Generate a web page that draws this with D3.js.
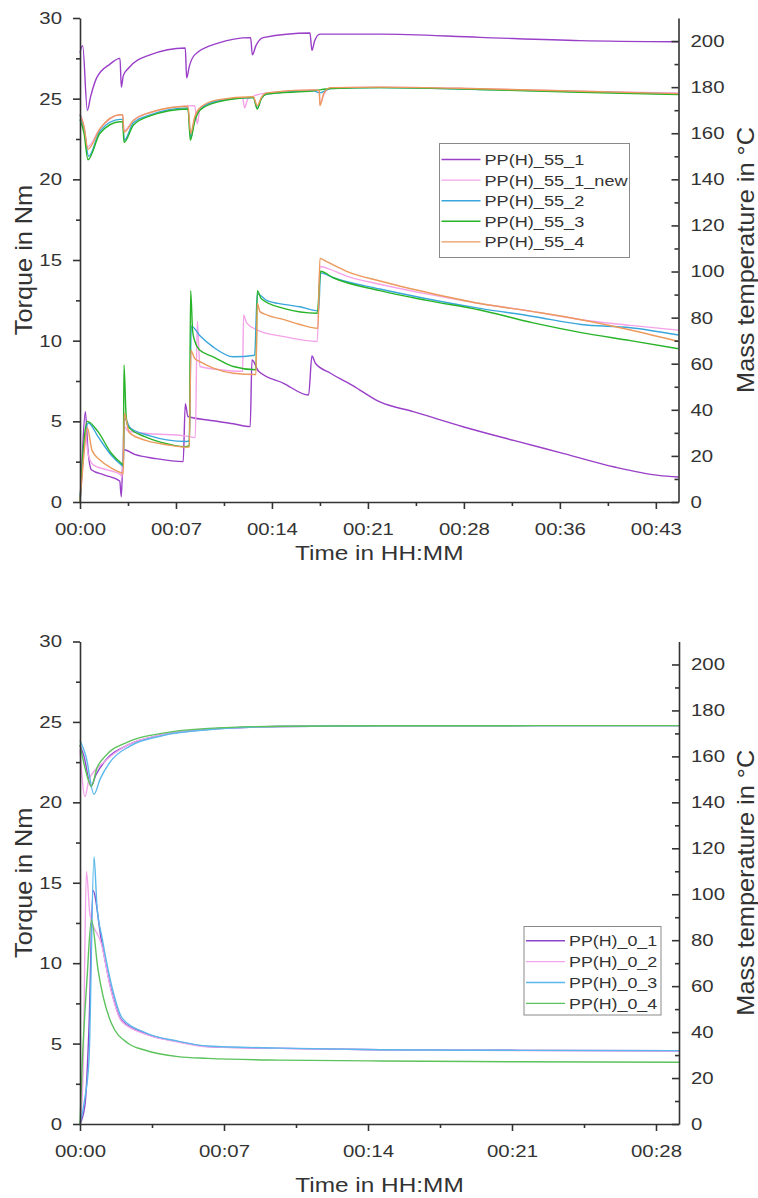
<html>
<style>
  body {
    margin: 0;
    background: #ffffff;
    font-family: "Liberation Sans", Arial, Helvetica, sans-serif;
  }
  .axis path, .axis line {
    stroke: #333333;
    stroke-width: 1.6;
  }
  .axis text {
    fill: #333333;
    font-size: 17px;
    font-family: "Liberation Sans", Arial, sans-serif;
  }
  .title {
    fill: #333333;
  }
  .legend text {
    fill: #333333;
  }
</style>

<script src="https://d3js.org/d3.v7.min.js"></script>

<body>
<svg id="chart" width="758" height="1198"></svg>
</body>

<script>
// ---------- top panel: PP(H)_55 (time in minutes) ----------
let names55 = ["PP(H)_55_1", "PP(H)_55_1_new", "PP(H)_55_2", "PP(H)_55_3", "PP(H)_55_4"]
let colors55 = ["#9a3fc8", "#f4a3e8", "#3aa6dc", "#28b428", "#ec9a5c"]

// torque in Nm
let torque55_1 = [[0,0],[0.15,2.5],[0.4,5.6],[0.6,3.2],[0.85,2.0],[1.85,1.67],[2.98,1.3],[3.1,0.33],[3.25,3.25],[4.1,2.95],[5.6,2.7],[7.74,2.5],[7.9,6.1],[8.1,5.3],[9.6,5.08],[11.5,4.85],[12.77,4.67],[12.9,8.8],[13.4,8.1],[15.27,7.36],[17.15,6.63],[17.4,9.05],[17.66,8.6],[18.8,7.98],[20.5,7.2],[22.5,6.2],[25,5.6],[28.8,4.65],[32.6,3.8],[36.3,3.0],[40.1,2.17],[43.4,1.65],[44.9,1.55]]
let torque55_1new = [[0,0],[0.2,2.0],[0.4,4.3],[0.6,3.0],[1.0,2.3],[2.0,2.0],[3.05,1.7],[3.15,1.5],[3.3,4.7],[3.6,4.4],[5.0,4.25],[7.9,4.1],[8.65,4.0],[8.8,11.2],[9.0,8.4],[10.5,8.2],[12.2,8.1],[12.27,11.6],[12.5,11.1],[13.3,10.66],[15.3,10.25],[17.8,9.95],[18.0,14.6],[18.5,14.5],[20,14.0],[22.5,13.5],[26,12.9],[30,12.3],[34,11.8],[37.6,11.3],[41.3,10.95],[44.9,10.65]]
let torque55_2 = [[0,0],[0.3,3.5],[0.63,4.9],[1.35,4.05],[2.35,2.9],[3.1,2.3],[3.25,2.2],[3.35,5.2],[3.76,4.6],[5.26,4.1],[6.5,3.85],[8.0,3.75],[8.2,3.8],[8.35,10.9],[9.0,10.3],[10.0,9.6],[11.5,9.0],[13.1,9.1],[13.3,12.9],[14.0,12.5],[15.3,12.25],[16.5,12.1],[17.9,11.85],[18.05,14.2],[19,13.9],[22.5,13.2],[26,12.6],[30,12.0],[34,11.5],[37.6,11.0],[41.3,10.8],[44.9,10.35]]
let torque55_3 = [[0,0],[0.3,3.8],[0.55,5.0],[1.35,4.36],[2.35,3.02],[3.1,2.4],[3.25,2.3],[3.3,8.5],[3.45,5.5],[3.6,4.67],[4.86,4.05],[6.1,3.7],[7.86,3.43],[8.2,3.5],[8.3,13.1],[8.45,10.6],[8.6,10.0],[9.0,9.4],[10.0,9.0],[11.5,8.4],[13.2,8.2],[13.3,13.1],[13.6,12.6],[15.27,12.0],[17.8,11.7],[18.05,14.3],[19,13.9],[22.5,13.1],[26,12.5],[30,11.9],[34,11.1],[37.6,10.5],[41.3,10.0],[44.9,9.5]]
let torque55_4 = [[0,0],[0.3,3.0],[0.55,4.6],[0.9,3.2],[1.5,2.6],[2.35,2.1],[3.1,1.8],[3.25,1.75],[3.32,5.5],[3.7,4.3],[5.0,3.8],[6.5,3.55],[7.9,3.4],[8.2,3.4],[8.32,9.4],[8.6,8.9],[9.0,8.7],[10.0,8.3],[11.5,7.98],[13.2,7.9],[13.3,12.3],[13.5,11.8],[14.0,11.6],[15.3,11.3],[16.5,11.0],[17.85,10.77],[18.0,15.1],[18.5,14.9],[20,14.3],[22.5,13.7],[26,13.0],[30,12.3],[34,11.8],[37.6,11.3],[41.3,10.66],[44.9,9.95]]

// mass temperature in °C
let temp55_1 = [[0,195],[0.2,198],[0.55,170],[0.8,176],[1.25,184],[2.25,190],[3.0,192.5],[3.1,180],[3.25,185],[3.6,188],[5.25,194],[7.9,197],[8.0,184],[8.2,189],[8.6,194],[10.3,199],[12.8,201.5],[12.93,194],[13.2,198],[13.75,201.5],[17.25,203.5],[17.4,196],[17.6,200],[18.0,203],[22.5,203],[30,201.6],[37.5,200.2],[44.9,199.7]]
let temp55_1new = [[0,168.5],[0.3,163],[0.55,154],[1.5,162],[3.0,168],[3.2,168],[3.3,161],[4.0,165.5],[5.26,169],[8.6,172],[8.8,164],[9.0,170.5],[10.3,174],[12.2,175.3],[12.35,171],[12.6,175],[14.0,177.5],[17.5,178.8],[17.95,178.5],[18.0,172.5],[18.3,177],[18.8,179.6],[22.5,180],[30,179.3],[37.5,178.2],[44.9,177.5]]
let temp55_2 = [[0,168],[0.3,162],[0.65,150],[1.5,161],[3.0,166],[3.2,166],[3.32,157],[4.0,164.5],[5.26,168],[8.1,171],[8.3,158],[8.6,166],[9.0,170.4],[10.3,174],[13.0,175.5],[13.3,171],[13.6,175],[14.0,177],[17.5,178.4],[18.0,177.5],[18.8,179.4],[22.5,179.8],[30,179],[37.5,178],[44.9,177]]
let temp55_3 = [[0,166],[0.3,160],[0.6,148.5],[1.5,160],[3.0,165],[3.2,165],[3.3,156],[4.0,163.5],[5.26,167.5],[8.1,170.5],[8.28,157],[8.6,165],[9.0,170],[10.3,173.5],[13.0,175.5],[13.3,170.5],[13.6,175],[14.0,177],[17.5,178.4],[18.8,179.4],[22.5,179.8],[30,179],[37.5,177.8],[44.9,176.8]]
let temp55_4 = [[0,168],[0.3,163],[0.6,153],[1.5,162],[3.0,168],[3.2,168],[3.3,160.5],[4.0,165.5],[5.26,169],[8.1,171.7],[8.3,160],[8.6,167],[9.0,171],[10.3,174.5],[13.0,175.8],[13.3,172],[13.6,175.5],[14.0,177.5],[17.5,178.8],[17.95,178.5],[18.0,172],[18.3,177.5],[18.8,179.8],[22.5,180],[30,179.3],[37.5,178.2],[44.9,177.2]]

// ---------- bottom panel: PP(H)_0 ----------
let names0 = ["PP(H)_0_1", "PP(H)_0_2", "PP(H)_0_3", "PP(H)_0_4"]
let colors0 = ["#8a46cc", "#f2a5ea", "#5ab8ec", "#5cc25c"]

let torque0_1 = [[0,0],[0.25,1.2],[0.45,6],[0.65,14.5],[1.07,11.4],[1.57,8.3],[2.07,6.47],[3.23,5.64],[4.9,5.12],[6.4,4.81],[10,4.7],[15,4.62],[22,4.58],[29.95,4.55]]
let torque0_2 = [[0,0],[0.15,3],[0.32,15.7],[0.5,13.0],[1.07,11.2],[1.57,8.2],[2.07,6.4],[3.23,5.6],[4.9,5.1],[6.4,4.8],[10,4.7],[15,4.62],[22,4.57],[29.95,4.55]]
let torque0_3 = [[0,0],[0.23,1.5],[0.45,4],[0.7,16.6],[0.85,13.5],[1.1,11.6],[1.6,8.5],[2.1,6.6],[3.23,5.7],[4.9,5.15],[6.4,4.85],[10,4.72],[15,4.62],[22,4.58],[29.95,4.56]]
let torque0_4 = [[0,0],[0.12,4],[0.35,9],[0.57,12.7],[0.9,9.6],[1.57,6.26],[2.4,5.02],[3.23,4.6],[4.9,4.19],[6.4,4.08],[10,3.97],[15,3.92],[22,3.87],[29.95,3.84]]

let temp0_1 = [[0,165],[0.2,160],[0.55,147],[0.8,152],[1.25,158],[2.4,165],[4.07,169.3],[6.4,171.8],[10,173],[15,173.3],[29.95,173.4]]
let temp0_2 = [[0,163],[0.25,142.5],[0.45,150],[1.2,157.5],[2.4,165],[4.07,169.3],[6.4,171.8],[10,173],[15,173.3],[29.95,173.4]]
let temp0_3 = [[0,167],[0.3,160],[0.7,143.5],[1.0,150],[1.5,157.5],[2.5,164.5],[4.1,169],[6.4,171.6],[10,173],[15,173.3],[29.95,173.4]]
let temp0_4 = [[0,165],[0.25,155],[0.57,147],[0.85,155],[1.25,160],[2.4,166.3],[4.07,170],[6.4,172.2],[10,173.1],[15,173.3],[29.95,173.4]]

// axis ticks (minutes, shown truncated as HH:MM)
let timeStep = 7.2
let torqueTicks = [0, 5, 10, 15, 20, 25, 30]
let tempTicks = [0, 20, 40, 60, 80, 100, 120, 140, 160, 180, 200]

let TEXT_SX = 1.2

function fmtTime(v) {
  let m = Math.floor(v + 1e-6)
  return "00:" + d3.format("02d")(m)
}

function hText(g, x, y, str, size, anchor, sx) {
  return g.append("text")
    .attr("transform", `translate(${x},${y}) scale(${sx},1)`)
    .attr("text-anchor", anchor)
    .style("font-size", size + "px")
    .text(str)
}

function vText(g, x, y, str, size, sy) {
  return g.append("text")
    .attr("class", "title")
    .attr("transform", `translate(${x},${y}) rotate(-90) scale(${sy},1)`)
    .attr("text-anchor", "middle")
    .style("font-size", size + "px")
    .text(str)
}

function drawPanel(p) {
  let svg = d3.select("#chart")
  let g = svg.append("g")

  let x = d3.scaleLinear().domain([0, p.xMax]).range([p.left, p.right])
  let yL = d3.scaleLinear().domain([0, 30]).range([p.bottom, p.top])
  let yR = d3.scaleLinear().domain([0, 210]).range([p.bottom, p.top])

  let torqueLine = d3.line().curve(d3.curveMonotoneX).x(d => x(d[0])).y(d => yL(d[1]))
  let tempLine = d3.line().curve(d3.curveMonotoneX).x(d => x(d[0])).y(d => yR(d[1]))

  // data lines
  p.series.forEach(s => {
    g.append("path").attr("d", tempLine(s.temp))
      .attr("fill", "none").attr("stroke", s.color).attr("stroke-width", 1.4)
    g.append("path").attr("d", torqueLine(s.torque))
      .attr("fill", "none").attr("stroke", s.color).attr("stroke-width", 1.4)
  })

  // x axis, major + minor ticks
  let major = d3.range(0, p.xMax + 0.01, timeStep)
  let minor = d3.range(timeStep / 2, p.xMax, timeStep)
  let gxMinor = g.append("g").attr("class", "axis")
    .attr("transform", `translate(0,${p.bottom})`)
    .call(d3.axisBottom(x).tickValues(minor).tickFormat("").tickSizeInner(4).tickSizeOuter(0))
  gxMinor.select(".domain").remove()
  let gx = g.append("g").attr("class", "axis")
    .attr("color", "#333")
    .attr("transform", `translate(0,${p.bottom})`)
    .call(d3.axisBottom(x).tickValues(major).tickFormat(fmtTime).tickSizeInner(7).tickSizeOuter(0).tickPadding(14))
  gx.selectAll("text").attr("transform", `scale(${TEXT_SX},1)`)

  // left axis
  let gyMinor = g.append("g").attr("class", "axis")
    .attr("transform", `translate(${p.left},0)`)
    .call(d3.axisLeft(yL).tickValues(d3.range(2.5, 30, 5)).tickFormat("").tickSizeInner(4).tickSizeOuter(0))
  gyMinor.select(".domain").remove()
  let gy = g.append("g").attr("class", "axis")
    .attr("transform", `translate(${p.left},0)`)
    .call(d3.axisLeft(yL).tickValues(torqueTicks).tickSizeInner(7).tickSizeOuter(0))
  gy.selectAll("text")
    .attr("x", -18 / TEXT_SX)
    .attr("transform", `scale(${TEXT_SX},1)`)

  // right axis, ticks pointing inward
  let grMinor = g.append("g").attr("class", "axis")
    .attr("transform", `translate(${p.right},0)`)
    .call(d3.axisRight(yR).tickValues(d3.range(10, 210, 20)).tickFormat("").tickSizeInner(-4).tickSizeOuter(0))
  grMinor.select(".domain").remove()
  let gr = g.append("g").attr("class", "axis")
    .attr("transform", `translate(${p.right},0)`)
    .call(d3.axisRight(yR).tickValues(tempTicks).tickSizeInner(-7).tickSizeOuter(0))
  gr.selectAll("text")
    .attr("x", 12 / TEXT_SX)
    .attr("transform", `scale(${TEXT_SX},1)`)

  // axis titles
  hText(g, (p.left + p.right) / 2, p.xTitleY, "Time in HH:MM", 20, "middle", 1.22).attr("class", "title")
  vText(g, 32, (p.top + p.bottom) / 2, "Torque in Nm", 23, 1.1)
  vText(g, 754, (p.top + p.bottom) / 2, "Mass temperature in °C", 23, 1.1)

  // legend
  let lg = g.append("g").attr("class", "legend")
  let L = p.legend
  lg.append("rect")
    .attr("x", L.x).attr("y", L.y).attr("width", L.w).attr("height", L.h)
    .attr("fill", "#ffffff").attr("stroke", "#8a8a8a").attr("stroke-width", 1)
  p.series.forEach((s, i) => {
    let cy = L.firstRow + i * L.rowStep
    lg.append("line")
      .attr("x1", L.x + 2).attr("x2", L.x + L.lineLen)
      .attr("y1", cy).attr("y2", cy)
      .attr("stroke", s.color).attr("stroke-width", 1.4)
    hText(lg, L.x + L.lineLen + 4, cy + 5.5, s.name, L.font, "start", L.sx)
  })
}

let series55 = [
  {name: names55[0], color: colors55[0], torque: torque55_1, temp: temp55_1},
  {name: names55[1], color: colors55[1], torque: torque55_1new, temp: temp55_1new},
  {name: names55[2], color: colors55[2], torque: torque55_2, temp: temp55_2},
  {name: names55[3], color: colors55[3], torque: torque55_3, temp: temp55_3},
  {name: names55[4], color: colors55[4], torque: torque55_4, temp: temp55_4}
]
let series0 = [
  {name: names0[0], color: colors0[0], torque: torque0_1, temp: temp0_1},
  {name: names0[1], color: colors0[1], torque: torque0_2, temp: temp0_2},
  {name: names0[2], color: colors0[2], torque: torque0_3, temp: temp0_3},
  {name: names0[3], color: colors0[3], torque: torque0_4, temp: temp0_4}
]

drawPanel({
  left: 80, right: 678.5, top: 18, bottom: 502, xMax: 44.9, xTitleY: 560,
  series: series55,
  legend: {x: 439.5, y: 143.5, w: 190, h: 114, firstRow: 159.5, rowStep: 20.6, lineLen: 41, font: 15.5, sx: 1.17}
})
drawPanel({
  left: 80, right: 679, top: 641.5, bottom: 1124, xMax: 29.95, xTitleY: 1191.5,
  series: series0,
  legend: {x: 524, y: 926.5, w: 137, h: 88.5, firstRow: 940.7, rowStep: 20.9, lineLen: 41, font: 15, sx: 1.19}
})
</script>
</html>
